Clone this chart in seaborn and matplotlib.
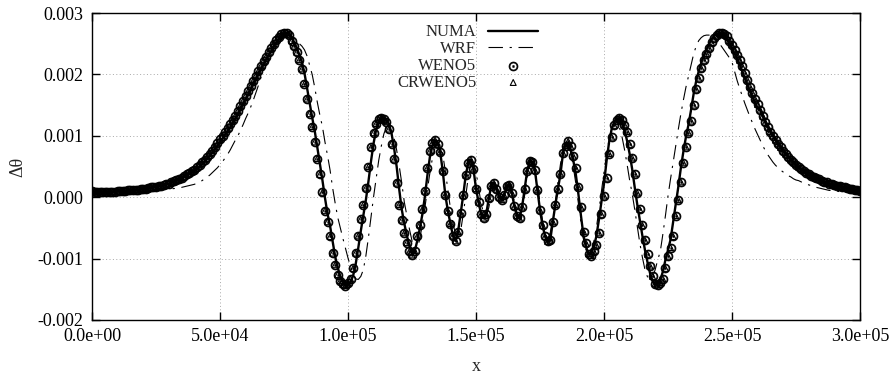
import numpy as np
import pandas as pd
import matplotlib
matplotlib.use("Agg")
import matplotlib.pyplot as plt
import matplotlib.ticker as mticker
import seaborn as sns

# output grid: one sample every 1 km along x (metres)
x = np.arange(0, 300001, 1000)

# delta theta, in units of 1e-4 (one value per km)
numa = [
    1.0, 0.9, 0.9, 0.9, 0.9, 0.9, 0.9, 0.9, 0.9, 0.9,
    1.0, 1.0, 1.0, 1.0, 1.1, 1.1, 1.1, 1.2, 1.2, 1.3,
    1.4, 1.4, 1.5, 1.6, 1.6, 1.7, 1.8, 1.9, 2.0, 2.1,
    2.2, 2.4, 2.6, 2.8, 3.0, 3.2, 3.4, 3.7, 3.9, 4.2,
    4.3, 4.6, 5.0, 5.4, 5.8, 6.3, 6.8, 7.3, 7.8, 8.4,
    9.0, 9.6, 10.2, 10.8, 11.4, 12.1, 12.8, 13.5, 14.3, 15.1,
    15.9, 16.7, 17.5, 18.4, 19.2, 20.0, 20.8, 21.6, 22.4, 23.1,
    23.8, 24.5, 25.2, 25.8, 26.2, 26.6, 26.8, 26.7, 26.1, 25.2,
    24.3, 23.2, 22.0, 20.2, 17.8, 15.3, 13.0, 10.8, 8.2, 5.5,
    2.8, -0.1, -2.7, -4.7, -7.2, -9.7, -11.5, -12.9, -13.8, -14.3,
    -14.3, -13.8, -12.8, -10.9, -8.3, -5.5, -2.9, -0.4, 2.6, 5.9,
    8.8, 11.0, 12.2, 12.8, 12.8, 12.6, 11.9, 10.4, 8.0, 5.0,
    1.3, -2.0, -4.3, -6.3, -7.8, -9.0, -8.9, -7.2, -5.2, -2.9,
    0.0, 3.5, 6.6, 8.4, 9.2, 8.8, 7.4, 4.3, 0.4, -2.2,
    -4.3, -6.3, -7.1, -5.6, -2.6, 0.3, 3.6, 5.6, 6.1, 4.6,
    1.4, -0.8, -2.8, -3.4, -2.7, -0.2, 1.9, 2.3, 1.3, 0.0,
    -0.4, 0.3, 1.8, 2.0, 0.7, -1.5, -3.0, -3.4, -1.6, 1.3,
    4.3, 5.9, 5.8, 4.4, 1.2, -2.1, -4.6, -6.4, -7.2, -7.0,
    -4.0, -1.2, 1.3, 3.8, 7.2, 8.6, 8.8, 7.7, 6.0, 3.7,
    0.5, -3.0, -6.3, -8.1, -9.3, -9.0, -8.1, -6.4, -3.7, -0.7,
    2.2, 5.9, 9.0, 11.1, 12.3, 12.8, 12.7, 12.0, 11.0, 9.2,
    7.1, 4.6, 1.6, -1.2, -3.8, -6.3, -8.6, -10.6, -12.4, -13.7,
    -14.2, -14.0, -13.5, -12.1, -10.2, -8.6, -6.9, -4.0, -1.2, 1.6,
    4.7, 7.4, 9.8, 11.8, 14.2, 16.8, 18.9, 20.5, 21.9, 23.1,
    24.0, 24.9, 25.7, 26.3, 26.6, 26.7, 26.6, 26.3, 25.7, 25.0,
    24.2, 23.4, 22.6, 21.6, 20.5, 19.4, 18.3, 17.3, 16.3, 15.4,
    14.5, 14.2, 13.2, 12.2, 11.4, 10.7, 10.0, 9.3, 8.7, 8.1,
    7.5, 7.0, 6.5, 6.1, 5.7, 5.3, 4.9, 4.6, 4.3, 4.0,
    3.7, 3.5, 3.3, 3.1, 2.9, 2.7, 2.5, 2.4, 2.2, 2.1,
    2.0, 1.9, 1.8, 1.7, 1.6, 1.5, 1.4, 1.3, 1.2, 1.1,
    1.0,
]

wrf = [
    0.7, 0.7, 0.7, 0.7, 0.7, 0.7, 0.7, 0.7, 0.7, 0.7,
    0.7, 0.7, 0.7, 0.7, 0.7, 0.8, 0.8, 0.8, 0.8, 0.9,
    0.9, 0.9, 1.0, 1.0, 1.1, 1.1, 1.2, 1.2, 1.3, 1.3,
    1.3, 1.4, 1.4, 1.5, 1.6, 1.6, 1.7, 1.8, 1.9, 2.0,
    2.1, 2.3, 2.5, 2.7, 3.0, 3.3, 3.6, 4.0, 4.4, 4.8,
    5.3, 5.8, 6.4, 7.0, 7.7, 8.5, 9.3, 10.0, 10.9, 11.8,
    12.8, 13.7, 14.7, 15.8, 17.0, 18.2, 19.5, 20.6, 21.5, 22.4,
    23.3, 24.1, 24.9, 25.5, 26.0, 26.3, 26.4, 26.4, 26.1, 25.8,
    25.4, 25.0, 24.6, 24.0, 23.0, 21.5, 20.0, 17.9, 15.5, 13.4,
    11.5, 9.0, 6.8, 4.4, 1.5, -1.0, -3.3, -5.0, -6.7, -8.3,
    -9.9, -11.3, -12.6, -13.3, -13.4, -12.9, -11.8, -9.5, -6.5, -3.2,
    0.1, 3.1, 6.0, 8.3, 10.3, 11.4, 11.8, 11.0, 9.6, 7.7,
    5.1, 2.3, -0.8, -3.0, -5.2, -7.1, -8.2, -8.4, -6.9, -4.5,
    -1.8, 1.2, 4.0, 6.4, 8.0, 8.7, 8.5, 7.0, 4.3, 1.2,
    -1.8, -4.3, -6.0, -6.6, -5.5, -2.8, 0.3, 3.3, 5.2, 5.6,
    4.2, 1.5, -1.0, -2.8, -3.1, -1.7, 0.5, 1.9, 1.9, 0.7,
    -0.3, 0.1, 1.5, 2.0, 1.1, -0.8, -2.6, -3.2, -2.2, 0.3,
    3.2, 5.2, 5.6, 4.7, 2.3, -1.0, -3.8, -6.0, -6.8, -5.8,
    -3.6, -0.8, 2.4, 5.4, 7.6, 8.7, 8.6, 7.3, 5.0, 2.2,
    -1.0, -4.2, -6.9, -8.6, -9.4, -9.0, -7.3, -5.0, -2.2, 1.0,
    4.1, 7.0, 9.4, 11.1, 12.0, 12.1, 11.4, 9.9, 7.8, 5.4,
    2.8, 0.6, -2.0, -4.8, -7.5, -9.8, -11.8, -13.0, -13.4, -13.0,
    -11.8, -10.2, -8.8, -6.0, -3.0, 0.2, 3.0, 5.6, 8.3, 11.0,
    13.5, 15.8, 17.9, 19.7, 21.5, 23.3, 24.6, 25.5, 26.0, 26.3,
    26.4, 26.4, 26.3, 26.0, 25.6, 25.1, 24.5, 23.9, 23.3, 22.7,
    22.0, 20.5, 19.0, 17.7, 16.5, 15.3, 14.2, 13.1, 12.1, 11.1,
    10.2, 9.3, 8.4, 7.6, 6.9, 6.3, 5.7, 5.2, 4.8, 4.4,
    4.1, 3.8, 3.5, 3.3, 3.0, 2.8, 2.7, 2.5, 2.3, 2.2,
    2.0, 1.9, 1.7, 1.6, 1.5, 1.4, 1.3, 1.2, 1.1, 1.1,
    1.0, 1.0, 0.9, 0.9, 0.9, 0.8, 0.8, 0.8, 0.7, 0.7,
    0.7,
]

weno5 = [
    1.0, 0.9, 0.9, 0.9, 0.9, 0.9, 0.9, 0.9, 0.9, 0.9,
    1.0, 1.0, 1.0, 1.0, 1.1, 1.1, 1.1, 1.2, 1.2, 1.3,
    1.4, 1.4, 1.5, 1.6, 1.6, 1.7, 1.8, 1.9, 2.0, 2.1,
    2.2, 2.4, 2.6, 2.8, 3.0, 3.2, 3.4, 3.7, 3.9, 4.2,
    4.5, 4.9, 5.3, 5.7, 6.1, 6.6, 7.1, 7.6, 8.2, 8.8,
    9.4, 10.0, 10.6, 11.2, 11.9, 12.6, 13.3, 14.1, 14.9, 15.7,
    16.5, 17.3, 18.1, 19.0, 19.8, 20.6, 21.4, 22.2, 22.9, 23.6,
    24.3, 25.0, 25.6, 26.1, 26.5, 26.8, 26.8, 26.4, 25.5, 24.6,
    23.6, 22.4, 20.9, 18.5, 16.0, 13.6, 11.5, 9.0, 6.3, 3.7,
    0.8, -2.2, -4.0, -6.4, -9.1, -11.0, -12.6, -13.6, -14.2, -14.4,
    -14.0, -13.3, -11.6, -9.1, -6.3, -3.6, -1.2, 1.5, 5.0, 8.1,
    10.5, 12.0, 12.7, 12.9, 12.7, 12.3, 11.1, 8.7, 6.2, 2.3,
    -1.2, -3.7, -5.8, -7.4, -8.8, -9.4, -8.7, -6.4, -4.5, -2.0,
    1.0, 4.8, 7.5, 8.9, 9.3, 8.6, 7.4, 4.3, 0.4, -2.2,
    -4.3, -6.3, -7.1, -5.6, -2.6, 0.3, 3.6, 5.6, 6.1, 4.6,
    1.4, -0.8, -2.8, -3.4, -2.7, -0.2, 1.9, 2.3, 1.3, 0.0,
    -0.4, 0.3, 1.8, 2.0, 0.7, -1.5, -3.0, -3.4, -1.6, 1.3,
    4.3, 5.9, 5.8, 4.4, 1.2, -2.1, -4.6, -6.4, -7.2, -7.0,
    -4.0, -1.2, 1.3, 3.8, 7.2, 8.4, 9.1, 8.3, 6.7, 4.7,
    1.7, -1.6, -5.6, -7.5, -9.2, -9.5, -8.8, -7.8, -5.8, -2.8,
    0.2, 3.1, 7.1, 9.8, 11.7, 12.6, 12.9, 12.6, 11.8, 10.7,
    8.6, 6.4, 3.8, 0.7, -2.0, -4.6, -7.0, -9.3, -11.2, -12.9,
    -14.1, -14.3, -13.9, -13.3, -11.6, -9.6, -8.2, -6.4, -3.0, -0.4,
    2.5, 5.6, 8.2, 10.5, 12.4, 15.0, 17.6, 19.4, 21.0, 22.3,
    23.4, 24.3, 25.2, 25.9, 26.4, 26.7, 26.7, 26.5, 26.2, 25.5,
    24.8, 24.0, 23.2, 22.3, 21.3, 20.2, 19.1, 18.0, 17.0, 16.0,
    15.1, 14.2, 13.2, 12.2, 11.4, 10.7, 10.0, 9.3, 8.7, 8.1,
    7.5, 7.0, 6.5, 6.1, 5.7, 5.3, 4.9, 4.6, 4.3, 4.0,
    3.7, 3.5, 3.3, 3.1, 2.9, 2.7, 2.5, 2.4, 2.2, 2.1,
    2.0, 1.9, 1.8, 1.7, 1.6, 1.5, 1.4, 1.3, 1.2, 1.1,
    1.0,
]

# the triangles sit inside the circles at every sample
crweno5 = list(weno5)

x_ticks = [0, 50000, 100000, 150000, 200000, 250000, 300000]
y_ticks = [-0.002, -0.001, 0.0, 0.001, 0.002, 0.003]

df = pd.DataFrame({
    'x': x,
    'NUMA': np.array(numa) * 1e-4,
    'WRF': np.array(wrf) * 1e-4,
    'WENO5': np.array(weno5) * 1e-4,
    'CRWENO5': np.array(crweno5) * 1e-4,
})

sns.set_theme(style='white')
plt.rcParams.update({
    'font.family': ['Liberation Serif', 'DejaVu Serif'],
    'axes.unicode_minus': False,
    'axes.edgecolor': 'black',
    'axes.linewidth': 1.0,
    'xtick.direction': 'in',
    'ytick.direction': 'in',
    'xtick.top': True,
    'ytick.right': True,
    'xtick.bottom': True,
    'ytick.left': True,
    'xtick.major.size': 5.8,
    'ytick.major.size': 5.8,
    'xtick.major.width': 1.0,
    'ytick.major.width': 1.0,
    'xtick.color': 'black',
    'ytick.color': 'black',
})

fig = plt.figure(figsize=(8.91, 3.75), dpi=100)
ax = fig.add_axes([92 / 891, 55 / 375, 768 / 891, 307 / 375])

sns.lineplot(data=df, x='x', y='NUMA', ax=ax, color='black', lw=1.7,
             label='NUMA', zorder=2)
sns.lineplot(data=df, x='x', y='WRF', ax=ax, color='black', lw=0.8,
             linestyle=(0, (13, 6, 2, 6)), label='WRF', zorder=2)
sns.scatterplot(data=df, x='x', y='WENO5', ax=ax, marker='$\\odot$', s=42,
                color='black', edgecolor='black', linewidth=0.5,
                label='WENO5', zorder=3)
sns.scatterplot(data=df, x='x', y='CRWENO5', ax=ax, marker='^', s=18,
                facecolor='none', edgecolor='black', linewidth=0.8,
                label='CRWENO5', zorder=4)

ax.set_xlim(0, 300000)
ax.set_ylim(-0.002, 0.003)
ax.set_xticks(x_ticks)
ax.set_yticks(y_ticks)
ax.xaxis.set_major_formatter(mticker.FuncFormatter(lambda v, p: f'{v:.1e}'))
ax.yaxis.set_major_formatter(mticker.FuncFormatter(lambda v, p: f'{v:.3f}'))
ax.tick_params(labelsize=13, pad=6)
ax.grid(True, color='#a8a8a8', linestyle=(0, (1, 2.5)), lw=0.7)
ax.set_axisbelow(True)

ax.set_xlabel('x', fontsize=13)
ax.set_ylabel('Δθ', fontsize=13)
ax.xaxis.set_label_coords(0.5, -0.125)
ax.yaxis.set_label_coords(-0.085, 0.5)

ax.legend(loc='upper right', bbox_to_anchor=(0.581, 0.963), markerfirst=False,
          frameon=False, fontsize=12, handlelength=3.0, handletextpad=0.72,
          labelspacing=0.05, borderpad=0, borderaxespad=0)

fig.savefig('out.png', dpi=100)
